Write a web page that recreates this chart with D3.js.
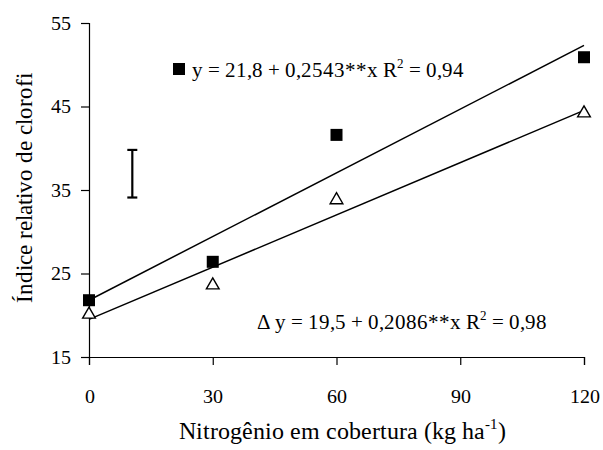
<!DOCTYPE html>
<html>
<head>
    <meta charset="UTF-8">
    <script src="https://d3js.org/d3.v7.min.js"></script>
    <style>
        @font-face {
            font-family: ChartSerif;
            src: local("Liberation Serif"), local("LiberationSerif"), local("LiberationSerif-Regular"), local("Times New Roman");
        }
        svg text { font-family: ChartSerif, serif; }
    </style>
</head>
<body style="margin:0">
    <script>
        // Data
        const doses = [0, 30, 60, 120];
        const squareValues = [21.8, 26.4, 41.6, 50.9];
        const triangleValues = [20.1, 23.6, 33.8, 44.2];
        const fitSquare = [21.8, 0.2543];
        const fitTriangle = [19.5, 0.2086];
        const errorBar = { x: 10.5, low: 34.1, high: 39.8 };
        const xTicks = [0, 30, 60, 90, 120];
        const yTicks = [15, 25, 35, 45, 55];

        const font = "ChartSerif, serif";

        const width = 603;
        const height = 450;
        const margin = { top: 23, right: 19, bottom: 93, left: 89 };

        const svg = d3.select("body")
            .append("svg")
            .attr("width", width)
            .attr("height", height);

        const x = d3.scaleLinear()
            .domain([0, 120])
            .range([margin.left, width - margin.right]);

        const y = d3.scaleLinear()
            .domain([15, 55])
            .range([height - margin.bottom, margin.top]);

        // Axes
        const xAxis = svg.append("g")
            .attr("transform", `translate(0,${y(15)})`)
            .call(d3.axisBottom(x).tickValues(xTicks).tickSize(8).tickPadding(24));
        const yAxis = svg.append("g")
            .attr("transform", `translate(${x(0)},0)`)
            .call(d3.axisLeft(y).tickValues(yTicks).tickSize(8).tickPadding(10));

        [xAxis, yAxis].forEach(g => {
            g.attr("font-family", font).attr("font-size", 20);
            g.select(".domain").attr("stroke", "#000").attr("stroke-width", 1.2);
            g.selectAll(".tick line").attr("stroke", "#000").attr("stroke-width", 1.2);
            g.selectAll(".tick text").attr("fill", "#000");
        });

        // Regression lines
        const line = d3.line().x(d => x(d[0])).y(d => y(d[1]));
        [fitSquare, fitTriangle].forEach(f => {
            svg.append("path")
                .datum([0, 120].map(v => [v, f[0] + f[1] * v]))
                .attr("d", line)
                .attr("fill", "none")
                .attr("stroke", "#000")
                .attr("stroke-width", 1.5);
        });

        // Squares
        svg.append("g")
            .selectAll("rect")
            .data(doses.map((d, i) => [d, squareValues[i]]))
            .enter().append("rect")
            .attr("x", d => x(d[0]) - 6)
            .attr("y", d => y(d[1]) - 6)
            .attr("width", 12)
            .attr("height", 12)
            .attr("fill", "#000");

        // Triangles
        const tri = d3.symbol().type(d3.symbolTriangle).size(70);
        svg.append("g")
            .selectAll("path")
            .data(doses.map((d, i) => [d, triangleValues[i]]))
            .enter().append("path")
            .attr("d", tri)
            .attr("transform", d => `translate(${x(d[0])},${y(d[1])})`)
            .attr("fill", "#fff")
            .attr("stroke", "#000")
            .attr("stroke-width", 1.4);

        // Error bar
        const eb = svg.append("g").attr("stroke", "#000").attr("stroke-width", 2.2);
        eb.append("line")
            .attr("x1", x(errorBar.x)).attr("x2", x(errorBar.x))
            .attr("y1", y(errorBar.low)).attr("y2", y(errorBar.high));
        [errorBar.low, errorBar.high].forEach(v => {
            eb.append("line")
                .attr("x1", x(errorBar.x) - 5).attr("x2", x(errorBar.x) + 5)
                .attr("y1", y(v)).attr("y2", y(v));
        });

        // Equation 1
        svg.append("rect")
            .attr("x", 173).attr("y", 63).attr("width", 12).attr("height", 12)
            .attr("fill", "#000");
        const eq1 = svg.append("text")
            .attr("x", 192).attr("y", 77)
            .attr("font-size", 21);
        eq1.append("tspan").text("y = 21,8 + 0,2543**x  R");
        eq1.append("tspan").attr("dy", -9).attr("font-size", 13).text("2");
        eq1.append("tspan").attr("dy", 9).text(" = 0,94");

        // Equation 2
        const eq2 = svg.append("text")
            .attr("x", 257).attr("y", 329)
            .attr("font-size", 21);
        eq2.append("tspan").text("\u0394 y = 19,5 + 0,2086**x R");
        eq2.append("tspan").attr("dy", -9).attr("font-size", 13).text("2");
        eq2.append("tspan").attr("dy", 9).text(" = 0,98");

        // Axis titles
        svg.append("text")
            .attr("transform", "translate(32,188) rotate(-90)")
            .attr("text-anchor", "middle")
            .attr("font-size", 23)
            .text("Índice relativo de clorofi");

        const xt = svg.append("text")
            .attr("x", 342)
            .attr("y", 439)
            .attr("text-anchor", "middle")
            .attr("font-size", 24);
        xt.append("tspan").text("Nitrogênio em cobertura (kg ha");
        xt.append("tspan").attr("dy", -10).attr("font-size", 15).text("-1");
        xt.append("tspan").attr("dy", 10).text(")");
    </script>
</body>
</html>
